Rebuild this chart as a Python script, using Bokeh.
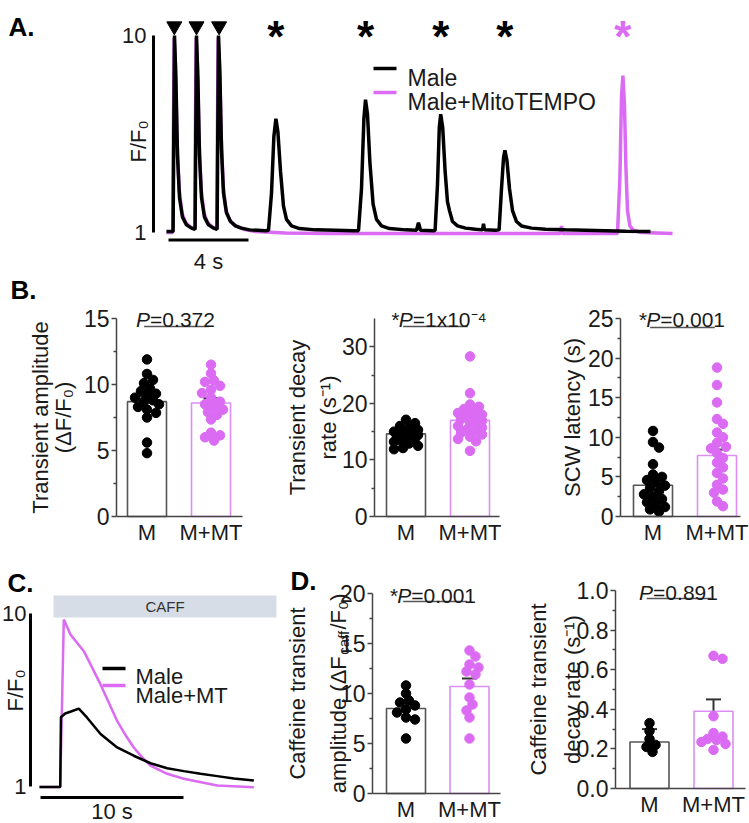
import math
from bokeh.plotting import figure
from bokeh.models import (Range1d, LinearAxis, FixedTicker, Label, Whisker, TeeHead,
                          ColumnDataSource, NumeralTickFormatter)
from bokeh.core.properties import value
from bokeh.embed import file_html
from bokeh.resources import INLINE

FONT = "Liberation Sans"
BLACK = "#000000"
MAG = "#DA6BF2"
MAG_EDGE = "#DD8EF5"
GRAY_EDGE = "#555555"
AXIS = "#444444"
ERR = "#333333"
TXT = "#1a1a1a"
CAFF_FILL = "#D6DDE6"

# ============================ DATA ============================
# Panel A: line-scan Ca traces (time in s, F/F0)
a_male_t = [0.05, 0.38, 0.45, 0.52, 0.60, 0.70, 0.85, 1.05, 1.30, 1.48,
            1.55, 1.62, 1.70, 1.80, 1.95, 2.15, 2.40, 2.58,
            2.65, 2.72, 2.80, 2.90, 3.05, 3.25, 3.50, 3.80, 4.20, 4.60, 5.00,
            5.15, 5.30, 5.42, 5.52, 5.62, 5.75, 5.90, 6.05, 6.30, 6.70, 7.50, 8.50, 9.40,
            9.65, 9.80, 9.92, 10.00, 10.10, 10.22, 10.38, 10.55, 10.80, 11.20, 12.00, 12.55, 12.65, 12.75, 13.40,
            13.48, 13.60, 13.69, 13.76, 13.86, 13.98, 14.10, 14.20, 14.35, 14.60, 15.00, 15.50, 15.85, 15.90, 15.95, 16.50,
            16.68, 16.80, 16.90, 16.97, 17.07, 17.20, 17.35, 17.55, 17.80, 18.30, 19.00, 20.00, 21.00, 22.00, 23.00, 24.25]
a_male_v = [1.05, 1.05, 10.0, 8.0, 4.5, 2.6, 1.7, 1.35, 1.2, 1.15,
            10.0, 8.0, 4.5, 2.6, 1.7, 1.35, 1.2, 1.15,
            10.0, 8.2, 4.8, 2.8, 1.9, 1.5, 1.3, 1.2, 1.12, 1.1, 1.08,
            1.1, 2.8, 5.4, 6.2, 5.6, 3.8, 2.2, 1.6, 1.3, 1.18, 1.12, 1.1, 1.08,
            1.08, 3.0, 6.2, 7.07, 6.4, 4.2, 2.3, 1.6, 1.3, 1.18, 1.12, 1.1, 1.45, 1.1, 1.08,
            1.1, 3.2, 5.8, 6.4, 5.8, 3.8, 2.4, 2.0, 1.5, 1.3, 1.2, 1.15, 1.12, 1.4, 1.12, 1.1,
            1.12, 3.0, 4.4, 4.75, 4.3, 3.0, 2.0, 1.5, 1.3, 1.2, 1.15, 1.12, 1.1, 1.08, 1.06, 1.05]
a_mt_t = [0.05, 0.36, 0.43, 0.50, 0.58, 0.68, 0.82, 1.00, 1.25, 1.46,
          1.53, 1.60, 1.68, 1.78, 1.92, 2.10, 2.35, 2.56,
          2.63, 2.70, 2.78, 2.88, 3.02, 3.22, 3.50, 3.90, 4.50, 6.0, 8.0, 10.0, 12.0, 14.0, 16.0, 17.5,
          19.75, 19.80, 19.85, 21.0, 22.6,
          22.72, 22.80, 22.87, 22.95, 23.02, 23.10, 23.22, 23.40, 23.80, 25.35]
a_mt_v = [1.0, 1.0, 9.9, 8.6, 5.2, 3.0, 1.9, 1.45, 1.25, 1.15,
          9.9, 8.6, 5.2, 3.0, 1.9, 1.45, 1.25, 1.15,
          9.9, 8.8, 5.6, 3.2, 2.0, 1.55, 1.3, 1.15, 1.05, 0.98, 0.96, 0.95, 0.95, 0.95, 0.95, 0.95,
          0.95, 1.3, 0.95, 0.95, 0.95,
          3.5, 7.2, 8.17, 6.8, 4.0, 2.0, 1.3, 1.1, 1.0, 0.95]
a_stim_t = [0.44, 1.55, 2.68]               # field stimulation (arrowheads)
a_scw_male_t = [5.52, 10.0, 13.76, 16.97]   # spontaneous Ca waves, Male
a_scw_mt_t = [22.87]                        # spontaneous Ca wave, Male+MitoTEMPO
a_scale_s = [0.15, 4.15]                    # 4 s scale bar

groups = ["M", "M+MT"]

# Panel B: transient amplitude (dF/F0)
b_amp_m = [11.9, 10.8, 10.35, 10.1, 9.7, 9.5, 9.3, 9.2, 9.0, 8.8, 8.7, 8.5, 8.3, 8.1, 7.85, 7.5, 5.6, 4.8]
b_amp_mt = [11.5, 10.85, 10.3, 10.2, 9.9, 9.6, 9.35, 9.0, 8.7, 8.5, 8.35, 8.1, 7.9, 7.7, 7.35, 6.35, 6.15, 6.0, 5.75]
b_amp_mean = [8.7, 8.6]
b_amp_sem = [0.4, 0.35]
# Panel B: transient decay rate (s-1)
b_dec_m = [17.1, 16.5, 16.0, 15.6, 15.3, 15.0, 14.8, 14.6, 14.4, 14.2, 14.0, 13.8, 13.5, 13.2, 12.9, 12.5, 12.1, 11.9]
b_dec_mt = [28.3, 21.8, 19.8, 19.4, 19.0, 18.6, 18.3, 18.0, 17.8, 17.5, 17.2, 16.9, 16.6, 16.3, 16.0, 15.7,
            15.4, 15.1, 14.8, 14.5, 14.1, 13.7, 13.3, 11.6]
b_dec_mean = [14.6, 17.0]
b_dec_sem = [0.5, 0.65]
# Panel B: SCW latency (s)
b_lat_m = [10.8, 9.4, 8.7, 6.6, 5.3, 5.0, 4.6, 4.3, 3.9, 3.6, 3.2, 2.8, 2.5, 2.2, 1.8, 1.5, 1.2, 0.9, 0.6]
b_lat_mt = [18.8, 16.6, 14.4, 12.3, 11.7, 10.6, 10.0, 9.3, 8.8, 8.6, 8.0, 7.4, 6.8, 6.2, 5.5, 4.8, 4.0,
            3.4, 3.0, 1.9, 1.3]
b_lat_mean = [3.95, 7.7]
b_lat_sem = [0.75, 0.75]

# Panel C: caffeine-evoked transients (time in s, F/F0)
c_male_t = [0.0, 1.45, 1.50, 1.80, 2.20, 2.75, 3.33, 4.27, 5.43, 6.59, 7.76, 8.93, 10.09, 11.26, 12.43, 13.59, 14.99]
c_male_v = [0.97, 0.97, 4.6, 4.8, 4.9, 5.05, 4.58, 3.73, 3.03, 2.60, 2.21, 1.95, 1.80, 1.66, 1.54, 1.42, 1.31]
c_mt_t = [0.0, 1.45, 1.70, 2.17, 3.10, 3.69, 4.27, 4.85, 5.43, 6.00, 6.59, 7.20, 7.76, 8.93, 10.09, 12.43, 14.99]
c_mt_v = [0.97, 0.97, 9.68, 8.9, 8.04, 7.17, 6.31, 5.36, 4.41, 3.69, 3.03, 2.50, 2.09, 1.66, 1.40, 1.05, 0.96]
c_caff_window = [0.98, 16.57]
c_scale_s = [0.07, 10.07]

# Panel D: caffeine transient amplitude (dFcaff/F0)
d_amp_m = [10.8, 10.0, 9.3, 9.1, 8.8, 8.4, 8.1, 7.6, 7.4, 5.5]
d_amp_mt = [14.3, 13.7, 12.9, 12.6, 12.2, 11.9, 10.9, 9.6, 8.9, 8.3, 7.6, 5.5]
d_amp_mean = [8.5, 10.7]
d_amp_sem = [0.8, 0.8]
# Panel D: caffeine transient decay rate (s-1)
d_dec_m = [0.33, 0.29, 0.25, 0.22, 0.21, 0.185]
d_dec_mt = [0.67, 0.655, 0.365, 0.28, 0.262, 0.25, 0.245, 0.235, 0.225, 0.195]
d_dec_mean = [0.235, 0.39]
d_dec_sem = [0.065, 0.06]

# ============================ FIGURE ============================
W, H = 749, 823
p = figure(width=W, height=H, x_range=Range1d(0, W), y_range=Range1d(H, 0),
           output_backend="svg", toolbar_location=None, title_location=None,
           x_axis_location=None, y_axis_location=None,
           min_border_left=0, min_border_right=0, min_border_top=0, min_border_bottom=0)
p.outline_line_color = None
p.grid.visible = False

XR, YR = {}, {}


class Panel:
    """Linear data scales of one panel, placed on the page by two reference points per axis."""
    def __init__(self, name, xa, xb, ya, yb):
        self.kx = (xb[1] - xa[1]) / (xb[0] - xa[0])
        self.x0 = xa[1] - xa[0] * self.kx
        self.ky = (yb[1] - ya[1]) / (yb[0] - ya[0])
        self.y0 = ya[1] - ya[0] * self.ky
        self.xn, self.yn = name + "_x", name + "_y"
        XR[self.xn] = Range1d(self.x0, self.x0 + W * self.kx)
        YR[self.yn] = Range1d(self.y0 + H * self.ky, self.y0)

    def X(self, px):
        return self.x0 + px * self.kx

    def Y(self, py):
        return self.y0 + py * self.ky

    def kw(self):
        return dict(x_range_name=self.xn, y_range_name=self.yn)


CW = {' ': 278, '*': 389, 'P': 667, '=': 584, '.': 278, 'x': 500, '⁻': 380, '⁴': 380,
      'a': 556, 'm': 833, 'p': 556, 'l': 222, 'i': 222, 't': 278, 'u': 556, 'd': 556, 'e': 556,
      '(': 333, ')': 333, 'Δ': 668, 'F': 611, '/': 278, 'c': 500, 'f': 278, '₀': 400}
for ch in "0123456789":
    CW[ch] = 556


def tw(s, size):
    return sum(CW.get(ch, 556) for ch in s) * size / 1000.0


def style_axis(ax, size="23px", tick_out=5, minor_out=3, lw=1.5, color=AXIS, standoff=2):
    ax.axis_line_color = color
    ax.axis_line_width = lw
    ax.major_tick_line_color = color
    ax.major_tick_line_width = lw
    ax.major_tick_out = tick_out
    ax.major_tick_in = 0
    ax.minor_tick_line_color = color
    ax.minor_tick_line_width = lw
    ax.minor_tick_out = minor_out
    ax.minor_tick_in = 0
    ax.major_label_text_font = FONT
    ax.major_label_text_font_size = size
    ax.major_label_text_color = TXT
    ax.major_label_standoff = standoff


def text(px, py, s, size=22, align="left", baseline="alphabetic", angle=0.0,
         style="normal", color=TXT):
    p.add_layout(Label(x=px, y=py, text=s, text_font=FONT, text_font_size=f"{size}px",
                       text_align=align, text_baseline=baseline, angle=angle,
                       text_font_style=style, text_color=color))


def vtitle(cx, cy, s, size=22):
    text(cx, cy, s, size=size, align="center", baseline="middle", angle=math.pi / 2)


def pvalue(cx, base_py, prefix, rest, size=21):
    total = tw(prefix, size) + tw(rest, size)
    anchor = cx - total / 2 + tw(prefix, size)
    text(anchor, base_py, prefix, size=size, align="right", style="italic")
    text(anchor, base_py, rest, size=size, align="left")


def swarm(vals, kx, ky, d=7.5, step=3.0, max_off=13.0):
    order = sorted(range(len(vals)), key=lambda i: -vals[i])
    cands = [0.0]
    k = 1
    while k * step <= max_off:
        cands += [k * step, -k * step]
        k += 1
    placed = []
    offs = [0.0] * len(vals)
    for i in order:
        py = vals[i] * ky
        chosen, bestc, bestd = None, 0.0, -1.0
        for c in cands:
            mind = min([math.hypot(c - ox, py - oy) for ox, oy in placed] + [1e9])
            if mind >= d:
                chosen = c
                break
            if mind > bestd:
                bestd, bestc = mind, c
        if chosen is None:
            chosen = bestc
        placed.append((chosen, py))
        offs[i] = chosen / kx
    return offs


def trace_axis(P, px, lo, hi, standoff):
    ax = LinearAxis(x_range_name=P.xn, y_range_name=P.yn, fixed_location=P.X(px),
                    bounds=(lo, hi), ticker=FixedTicker(ticks=[lo, hi]))
    style_axis(ax, size="22px", tick_out=0, minor_out=0, lw=3, color=BLACK, standoff=standoff)
    p.add_layout(ax, "left")


def bar_panel(name, axis_px, right_px, centers, y0_py, ytop_py, yr, major, minor,
              vals_m, vals_mt, means, sems, bracket_py, fmt=None):
    c1, c2 = centers
    P = Panel(name, (c1, 1.0), (c2, 2.0), (y0_py, 0.0), (ytop_py, yr[1]))
    kx_px = c2 - c1                       # px per x unit
    ky_px = (y0_py - ytop_py) / yr[1]     # px per y unit
    pos = [i + 1 for i in range(len(groups))]

    yax = LinearAxis(x_range_name=P.xn, y_range_name=P.yn, fixed_location=P.X(axis_px),
                     bounds=(0, yr[1]), ticker=FixedTicker(ticks=major, minor_ticks=minor))
    if fmt is not None:
        yax.formatter = NumeralTickFormatter(format=fmt)
    style_axis(yax)
    p.add_layout(yax, "left")

    xax = LinearAxis(x_range_name=P.xn, y_range_name=P.yn, fixed_location=0,
                     bounds=(P.X(axis_px), P.X(right_px)), ticker=FixedTicker(ticks=pos),
                     major_label_overrides={pp: g for pp, g in zip(pos, groups)})
    style_axis(xax, size="22px", tick_out=0, minor_out=0, standoff=3)
    p.add_layout(xax, "below")

    p.vbar(x=pos, top=means, bottom=0, width=39.0 / kx_px, fill_color="white",
           line_color=[GRAY_EDGE, MAG_EDGE], line_width=1.6, **P.kw())

    for g, vals, col in ((1, vals_m, BLACK), (2, vals_mt, MAG)):
        offs = swarm(vals, kx_px, ky_px)
        p.scatter(x=[g + o for o in offs], y=vals, size=9.5, fill_color=col, line_color=col, **P.kw())

    src = ColumnDataSource(dict(x=pos, upper=[m + s for m, s in zip(means, sems)],
                                lower=[m - s for m, s in zip(means, sems)]))
    p.add_layout(Whisker(base="x", upper="upper", lower="lower", source=src, dimension="height",
                         line_color=ERR, line_width=2, **P.kw(),
                         upper_head=TeeHead(size=15, line_color=ERR, line_width=2),
                         lower_head=TeeHead(size=15, line_color=ERR, line_width=2)))

    yb = P.Y(bracket_py)
    p.segment(x0=[pos[0] - 0.045], y0=[yb], x1=[pos[1] - 0.035], y1=[yb],
              line_color="#555555", line_width=1.5, **P.kw())
    return P


# ============================ PANEL A ============================
PA = Panel("A", (165, 0.0), (185, 1.0), (232, 1.0), (35, 10.0))
trace_axis(PA, 153, 1, 10, 7)
p.line(a_mt_t, a_mt_v, line_color=MAG, line_width=3.5, **PA.kw())
p.line(a_male_t, a_male_v, line_color=BLACK, line_width=3.5, **PA.kw())
p.scatter(x=a_stim_t, y=[PA.Y(25.7)] * len(a_stim_t), marker="inverted_triangle", size=15,
          fill_color=BLACK, line_color=BLACK, **PA.kw())
p.text(x=a_scw_male_t, y=[PA.Y(36)] * len(a_scw_male_t), text=["*"] * len(a_scw_male_t),
       text_font=value(FONT), text_font_style="bold", text_font_size="44px",
       text_align="center", text_baseline="alphabetic", text_color=BLACK, **PA.kw())
p.text(x=a_scw_mt_t, y=[PA.Y(36)] * len(a_scw_mt_t), text=["*"] * len(a_scw_mt_t),
       text_font=value(FONT), text_font_style="bold", text_font_size="44px",
       text_align="center", text_baseline="alphabetic", text_color=MAG, **PA.kw())
p.line(a_scale_s, [PA.Y(239.5)] * 2, line_color=BLACK, line_width=3, **PA.kw())

text(8, 26, "A.", size=26, style="bold", color=BLACK)
vtitle(138, 141, "F/F₀")
text(165 + 20 * (a_scale_s[0] + a_scale_s[1]) / 2, 261, "4 s", align="center")
p.segment(x0=[373, 373], y0=[68, 92], x1=[396, 396], y1=[68, 92],
          line_color=[BLACK, MAG], line_width=3.5)
text(407, 77, "Male", size=23)
text(407, 101.5, "Male+MitoTEMPO", size=23)

# ============================ PANEL B ============================
bar_panel("B1", 116, 242, (146.5, 210.5), 516, 318, (0, 15), [0, 5, 10, 15], [2.5, 7.5, 12.5],
          b_amp_m, b_amp_mt, b_amp_mean, b_amp_sem, 326)
bar_panel("B2", 374, 499, (405.5, 469.5), 516, 318, (0, 35), [0, 10, 20, 30], [5, 15, 25],
          b_dec_m, b_dec_mt, b_dec_mean, b_dec_sem, 326)
bar_panel("B3", 620, 740, (652.5, 716.5), 516, 318, (0, 25), [0, 5, 10, 15, 20, 25],
          [2.5, 7.5, 12.5, 17.5, 22.5], b_lat_m, b_lat_mt, b_lat_mean, b_lat_sem, 327)

text(10, 289, "B.", size=26, style="bold", color=BLACK)
pvalue(175, 319, "P", "=0.372")
pvalue(438, 319, "*P", "=1x10⁻⁴")
pvalue(681, 319, "*P", "=0.001")
vtitle(40, 417, "Transient amplitude")
vtitle(63, 417, "(ΔF/F₀)")
vtitle(297, 417, "Transient decay")
vtitle(328, 417, "rate (s⁻¹)")
vtitle(572, 417, "SCW latency (s)")

# ============================ PANEL C ============================
PC = Panel("C", (39, 0.0), (53.3, 1.0), (786, 1.0), (612.98, 10.0))
trace_axis(PC, 30, 1, 10, 4)
p.quad(left=[c_caff_window[0]], right=[c_caff_window[1]], bottom=[PC.Y(617)], top=[PC.Y(595)],
       fill_color=CAFF_FILL, line_color=None, **PC.kw())
p.line(c_mt_t, c_mt_v, line_color=MAG, line_width=2.5, **PC.kw())
p.line(c_male_t, c_male_v, line_color=BLACK, line_width=2.5, **PC.kw())
p.line(c_scale_s, [PC.Y(797)] * 2, line_color=BLACK, line_width=3, **PC.kw())

text(7, 582, "C.", size=26, style="bold", color=BLACK)
text(39 + 14.3 * (c_caff_window[0] + c_caff_window[1]) / 2, 606, "CAFF", size=15,
     align="center", baseline="middle", color="#333333")
vtitle(15, 690, "F/F₀")
text(39 + 14.3 * (c_scale_s[0] + c_scale_s[1]) / 2, 811, "10 s", align="center")
p.segment(x0=[102, 102], y0=[668, 685], x1=[125, 125], y1=[668, 685],
          line_color=[BLACK, MAG], line_width=3.5)
text(135, 675.5, "Male", size=22)
text(135, 695, "Male+MT", size=22)

# ============================ PANEL D ============================
bar_panel("D1", 372, 500, (405.5, 469), 793, 593, (0, 20), [0, 5, 10, 15, 20], [2.5, 7.5, 12.5, 17.5],
          d_amp_m, d_amp_mt, d_amp_mean, d_amp_sem, 601)
bar_panel("D2", 615, 745, (649, 713), 788, 590, (0, 1), [0, 0.2, 0.4, 0.6, 0.8, 1.0],
          [0.1, 0.3, 0.5, 0.7, 0.9], d_dec_m, d_dec_mt, d_dec_mean, d_dec_sem, 598, fmt="0.0")

text(290, 580, "D.", size=26, style="bold", color=BLACK)
pvalue(432, 595, "*P", "=0.001")
pvalue(678, 592, "P", "=0.891")
vtitle(297, 693, "Caffeine transient")
pieces = [("amplitude (ΔF", 22, 0, 1.5), ("caff", 15, 5, 1.0), ("/F₀)", 22, 0, 0)]
total = sum(tw(t, s) + g for t, s, sh, g in pieces)
start = 693 + total / 2
for t, s, sh, g in pieces:
    text(330 + 7.9 + sh, start, t, size=s, align="left", baseline="alphabetic", angle=math.pi / 2)
    start -= tw(t, s) + g
vtitle(538, 689, "Caffeine transient")
vtitle(572, 689, "decay rate (s⁻¹)")

p.extra_x_ranges = XR
p.extra_y_ranges = YR

open("out.html", "w").write(file_html(p, INLINE))
